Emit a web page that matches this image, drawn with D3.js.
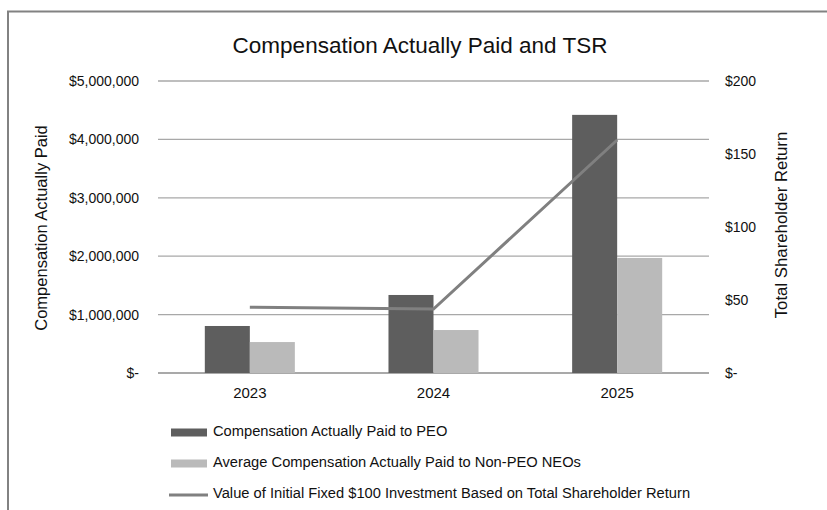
<!DOCTYPE html>
<html>
<head>
<meta charset="utf-8">
<script src="https://cdn.jsdelivr.net/npm/d3@7"></script>
<style>
  body { margin: 0; background: #fff; }
  svg { display: block; font-family: "Liberation Sans", Arial, sans-serif; }
</style>
</head>
<body>
<script>
// values
const years = ['2023', '2024', '2025'];
const peoPaid = [805000, 1336000, 4420000];
const neoPaid = [530000, 736000, 1970000];
const tsr = [45.0, 43.8, 159.6];

const leftTicks = [0, 1000000, 2000000, 3000000, 4000000, 5000000];
const rightTicks = [0, 50, 100, 150, 200];
const seriesNames = [
  'Compensation Actually Paid to PEO',
  'Average Compensation Actually Paid to Non-PEO NEOs',
  'Value of Initial Fixed $100 Investment Based on Total Shareholder Return'
];

const WIDTH = 827;
const HEIGHT = 510;
const PLOT = {left: 158, right: 709, top: 81, bottom: 373};
const DARK = '#5e5e5e';
const LIGHT = '#bababa';
const LINE = '#808080';

const svg = d3.select('body')
  .append('svg')
  .attr('width', WIDTH)
  .attr('height', HEIGHT);

// frame (runs off the right and bottom edges like the original)
svg.append('rect')
  .attr('x', 8)
  .attr('y', 11.5)
  .attr('width', WIDTH)
  .attr('height', HEIGHT)
  .attr('fill', 'none')
  .attr('stroke', '#828282')
  .attr('stroke-width', 2);

svg.append('text')
  .attr('x', 420)
  .attr('y', 53)
  .attr('text-anchor', 'middle')
  .style('font-size', '22.5px')
  .attr('fill', '#111')
  .text('Compensation Actually Paid and TSR');

const x0 = d3.scaleBand()
  .domain(years)
  .range([PLOT.left, PLOT.right])
  .padding(0);

const x1 = d3.scaleBand()
  .domain(['peo', 'neo'])
  .range([0, x0.bandwidth()])
  .paddingInner(0)
  .paddingOuter(1.04);

const yLeft = d3.scaleLinear()
  .domain([0, 5000000])
  .range([PLOT.bottom, PLOT.top]);

const yRight = d3.scaleLinear()
  .domain([0, 200])
  .range([PLOT.bottom, PLOT.top]);

const moneyFmt = d => d === 0 ? '$-' : '$' + d3.format(',')(d);

// gridlines
svg.append('g')
  .selectAll('line')
  .data(leftTicks)
  .enter()
  .append('line')
  .attr('x1', PLOT.left)
  .attr('x2', PLOT.right)
  .attr('y1', d => yLeft(d))
  .attr('y2', d => yLeft(d))
  .attr('stroke', d => d === 0 ? '#8c8c8c' : '#a8a8a8')
  .attr('stroke-width', d => d === 0 ? 1.6 : 1.3);

// left axis
const leftAxis = svg.append('g')
  .attr('transform', 'translate(' + (PLOT.left - 19) + ',0)')
  .call(d3.axisLeft(yLeft).tickValues(leftTicks).tickFormat(moneyFmt).tickSize(0).tickPadding(0));
leftAxis.select('.domain').remove();
leftAxis.selectAll('text')
  .style('font-size', '14px')
  .attr('fill', '#111')
  .attr('font-family', '"Liberation Sans", Arial, sans-serif');

// right axis
const rightAxis = svg.append('g')
  .attr('transform', 'translate(' + (PLOT.right + 16) + ',0)')
  .call(d3.axisRight(yRight).tickValues(rightTicks).tickFormat(moneyFmt).tickSize(0).tickPadding(0));
rightAxis.select('.domain').remove();
rightAxis.selectAll('text')
  .style('font-size', '14px')
  .attr('fill', '#111')
  .attr('font-family', '"Liberation Sans", Arial, sans-serif');

// bottom axis
const bottomAxis = svg.append('g')
  .attr('transform', 'translate(0,' + PLOT.bottom + ')')
  .call(d3.axisBottom(x0).tickSize(0).tickPadding(14));
bottomAxis.select('.domain').remove();
bottomAxis.selectAll('text')
  .style('font-size', '15px')
  .attr('fill', '#111')
  .attr('font-family', '"Liberation Sans", Arial, sans-serif');

// axis titles
svg.append('text')
  .attr('transform', 'translate(47,228) rotate(-90)')
  .attr('text-anchor', 'middle')
  .style('font-size', '16.5px')
  .attr('fill', '#111')
  .text('Compensation Actually Paid');

svg.append('text')
  .attr('transform', 'translate(787,225) rotate(-90)')
  .attr('text-anchor', 'middle')
  .style('font-size', '16.8px')
  .attr('fill', '#111')
  .text('Total Shareholder Return');

// bars
const rows = years.map((y, i) => ({year: y, peo: peoPaid[i], neo: neoPaid[i]}));

const groups = svg.append('g')
  .selectAll('g')
  .data(rows)
  .enter()
  .append('g')
  .attr('transform', d => 'translate(' + x0(d.year) + ',0)');

groups.selectAll('rect')
  .data(d => [{key: 'peo', value: d.peo}, {key: 'neo', value: d.neo}])
  .enter()
  .append('rect')
  .attr('x', d => x1(d.key))
  .attr('width', x1.bandwidth())
  .attr('y', d => yLeft(d.value))
  .attr('height', d => yLeft(0) - yLeft(d.value))
  .attr('fill', d => d.key === 'peo' ? DARK : LIGHT);

// TSR line
const line = d3.line()
  .x((d, i) => x0(years[i]) + x0.bandwidth() / 2)
  .y(d => yRight(d));

svg.append('path')
  .datum(tsr)
  .attr('d', line)
  .attr('fill', 'none')
  .attr('stroke', LINE)
  .attr('stroke-width', 3);

// legend
const legend = svg.append('g')
  .attr('transform', 'translate(171,0)');

const legendRows = [
  {name: seriesNames[0], type: 'bar', color: DARK, y: 436},
  {name: seriesNames[1], type: 'bar', color: LIGHT, y: 467},
  {name: seriesNames[2], type: 'line', color: LINE, y: 498}
];

legendRows.forEach(r => {
  if (r.type === 'bar') {
    legend.append('rect')
      .attr('x', 0)
      .attr('y', r.y - 7.5)
      .attr('width', 36)
      .attr('height', 8)
      .attr('fill', r.color);
  } else {
    legend.append('line')
      .attr('x1', -2)
      .attr('x2', 37)
      .attr('y1', r.y - 3)
      .attr('y2', r.y - 3)
      .attr('stroke', r.color)
      .attr('stroke-width', 3);
  }
  legend.append('text')
    .attr('x', 42)
    .attr('y', r.y)
    .style('font-size', '14.7px')
    .attr('fill', '#111')
    .text(r.name);
});
</script>
</body>
</html>
